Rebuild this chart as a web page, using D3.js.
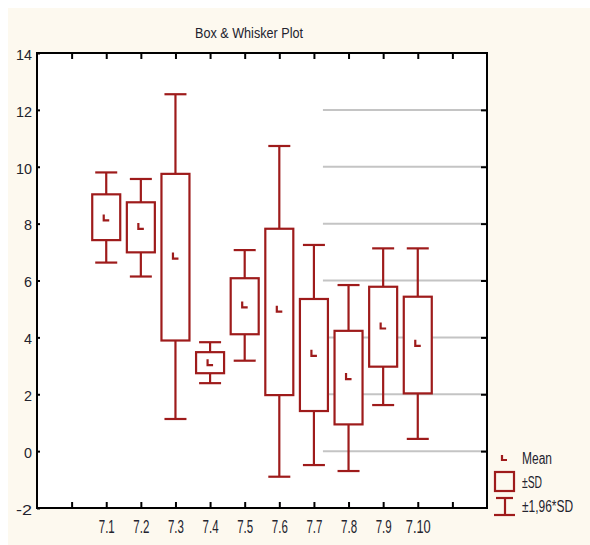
<!DOCTYPE html>
<html><head><meta charset="utf-8">
<script src="https://cdn.jsdelivr.net/npm/d3@7"></script>
<style>
html,body{margin:0;padding:0;background:#fff;}
svg{display:block;}
text{font-family:"Liberation Sans Narrow","Arial Narrow","Liberation Sans",Arial,sans-serif;}
</style></head>
<body>
<svg id="chart" width="590" height="545"></svg>
<script>
// ---- data ----
const categories = ["7.1","7.2","7.3","7.4","7.5","7.6","7.7","7.8","7.9","7.10"];
const means      = [8.20, 7.90, 6.86, 3.11, 5.14, 4.99, 3.44, 2.62, 4.40, 3.79];
const sdLow      = [7.42, 6.99, 3.89, 2.74, 4.11, 1.97, 1.41, 0.94, 2.97, 2.03];
const sdHigh     = [9.03, 8.75, 9.75, 3.48, 6.08, 7.82, 5.35, 4.23, 5.78, 5.43];
const ciLow      = [6.63, 6.14, 1.13, 2.39, 3.18, -0.90, -0.49, -0.70, 1.62, 0.43];
const ciHigh     = [9.80, 9.57, 12.55, 3.83, 7.07, 10.73, 7.25, 5.84, 7.13, 7.13];
const yTicks     = [-2, 0, 2, 4, 6, 8, 10, 12, 14];
const gridValues = [0, 2, 4, 6, 8, 10, 12];
const title = "Box & Whisker Plot";
const legendLabels = ["Mean", "\u00B1SD", "\u00B11,96*SD"];

// ---- layout ----
const svg = d3.select("#chart");
const W = 590, H = 545;
const L = 37, R = 487, T = 53, B = 508;
const red = "#9e1b1b";
const txt = "#23232e";

svg.append("rect").attr("x", 8).attr("y", 8).attr("width", W - 8).attr("height", H - 8).attr("fill", "#fdf9ef");
svg.append("rect").attr("x", L).attr("y", T).attr("width", R - L).attr("height", B - T).attr("fill", "#fff");

const slots = ["pad0", ...categories, "pad1"];
const x = d3.scalePoint().domain(slots).range([L, R]).padding(1);
const y = d3.scaleLinear().domain([-2, 14]).range([B, T]);
const step = x.step();

// grid lines (only right part, as in reference)
const gridStart = x("7.7") + step * 0.26;
svg.append("g").selectAll("line").data(gridValues).join("line")
  .attr("x1", gridStart).attr("x2", R)
  .attr("y1", d => y(d)).attr("y2", d => y(d))
  .attr("stroke", "#c4c4c4").attr("stroke-width", 2);

// title
svg.append("text").attr("x", 249).attr("y", 38).attr("text-anchor", "middle")
  .attr("font-size", 15).attr("fill", txt)
  .attr("textLength", 108).attr("lengthAdjust", "spacingAndGlyphs")
  .text(title);

// axes: bottom & top
const xAxisB = d3.axisBottom(x).tickSize(-6).tickFormat(d => d.startsWith("pad") ? "" : d);
const gB = svg.append("g").attr("transform", `translate(0,${B})`).call(xAxisB);
gB.select(".domain").remove();
gB.selectAll(".tick line").attr("stroke", "#000").attr("stroke-width", 2);
gB.selectAll(".tick text").attr("y", 25).attr("dy", null)
  .attr("font-size", 18).attr("fill", txt)
  .attr("textLength", d => d === "7.10" ? 25 : 16).attr("lengthAdjust", "spacingAndGlyphs");

const xAxisT = d3.axisTop(x).tickSize(-6).tickFormat("");
const gT = svg.append("g").attr("transform", `translate(0,${T})`).call(xAxisT);
gT.select(".domain").remove();
gT.selectAll(".tick line").attr("stroke", "#000").attr("stroke-width", 2);

// axes: left & right
const yAxisL = d3.axisLeft(y).tickValues(yTicks).tickSize(-3).tickFormat(d => String(d));
const gL = svg.append("g").attr("transform", `translate(${L},0)`).call(yAxisL);
gL.select(".domain").remove();
gL.selectAll(".tick line").attr("stroke", "#000").attr("stroke-width", 2);
gL.selectAll(".tick text").attr("x", -5).attr("dy", "0.45em")
  .attr("font-size", 14).attr("fill", txt)
  .attr("textLength", d => String(d).length * 8).attr("lengthAdjust", "spacingAndGlyphs");

const yAxisR = d3.axisRight(y).tickValues(gridValues).tickSize(-6).tickFormat("");
const gR = svg.append("g").attr("transform", `translate(${R},0)`).call(yAxisR);
gR.select(".domain").remove();
gR.selectAll(".tick line").attr("stroke", "#000").attr("stroke-width", 2);

// frame
svg.append("rect").attr("x", L).attr("y", T).attr("width", R - L).attr("height", B - T)
  .attr("fill", "none").attr("stroke", "#000").attr("stroke-width", 2);

// boxes
const data = categories.map((c, i) => ({c, mean: means[i], sl: sdLow[i], sh: sdHigh[i], cl: ciLow[i], ch: ciHigh[i]}));
const boxW = 28, capW = 22;
const g = svg.append("g").attr("stroke", red).attr("stroke-width", 2.2).attr("fill", "none");
const items = g.selectAll("g").data(data).join("g");
items.append("line").attr("x1", d => x(d.c)).attr("x2", d => x(d.c))
  .attr("y1", d => y(d.ch)).attr("y2", d => y(d.cl));
items.append("line").attr("x1", d => x(d.c) - capW / 2).attr("x2", d => x(d.c) + capW / 2)
  .attr("y1", d => y(d.ch)).attr("y2", d => y(d.ch));
items.append("line").attr("x1", d => x(d.c) - capW / 2).attr("x2", d => x(d.c) + capW / 2)
  .attr("y1", d => y(d.cl)).attr("y2", d => y(d.cl));
items.append("rect").attr("x", d => x(d.c) - boxW / 2).attr("width", boxW)
  .attr("y", d => y(d.sh)).attr("height", d => y(d.sl) - y(d.sh))
  .attr("fill", "#fff");
items.append("path").attr("d", d => {
  const cx = x(d.c), cy = y(d.mean);
  return `M${cx - 2.5},${cy - 3.5}V${cy + 2.5}H${cx + 3}`;
});

// legend
const lg = svg.append("g");
const lx = 505;
lg.append("path").attr("d", `M${lx - 3},${455}V${460}H${lx + 2}`)
  .attr("stroke", red).attr("stroke-width", 2.2).attr("fill", "none");
lg.append("rect").attr("x", lx - 10).attr("y", 472).attr("width", 19).attr("height", 19)
  .attr("stroke", red).attr("stroke-width", 2.2).attr("fill", "none");
lg.append("line").attr("x1", lx).attr("x2", lx).attr("y1", 497).attr("y2", 515)
  .attr("stroke", red).attr("stroke-width", 2.2);
lg.append("line").attr("x1", lx - 9).attr("x2", lx + 8).attr("y1", 498).attr("y2", 498)
  .attr("stroke", red).attr("stroke-width", 2.2);
lg.append("line").attr("x1", lx - 11).attr("x2", lx + 10).attr("y1", 515).attr("y2", 515)
  .attr("stroke", red).attr("stroke-width", 2.2);
const legY = [464, 488, 512], legLen = [30, 20, 51];
lg.selectAll("text").data(legendLabels).join("text")
  .attr("x", 522).attr("y", (d, i) => legY[i])
  .attr("font-size", 16).attr("fill", txt)
  .attr("textLength", (d, i) => legLen[i]).attr("lengthAdjust", "spacingAndGlyphs")
  .text(d => d);
</script>
</body></html>
